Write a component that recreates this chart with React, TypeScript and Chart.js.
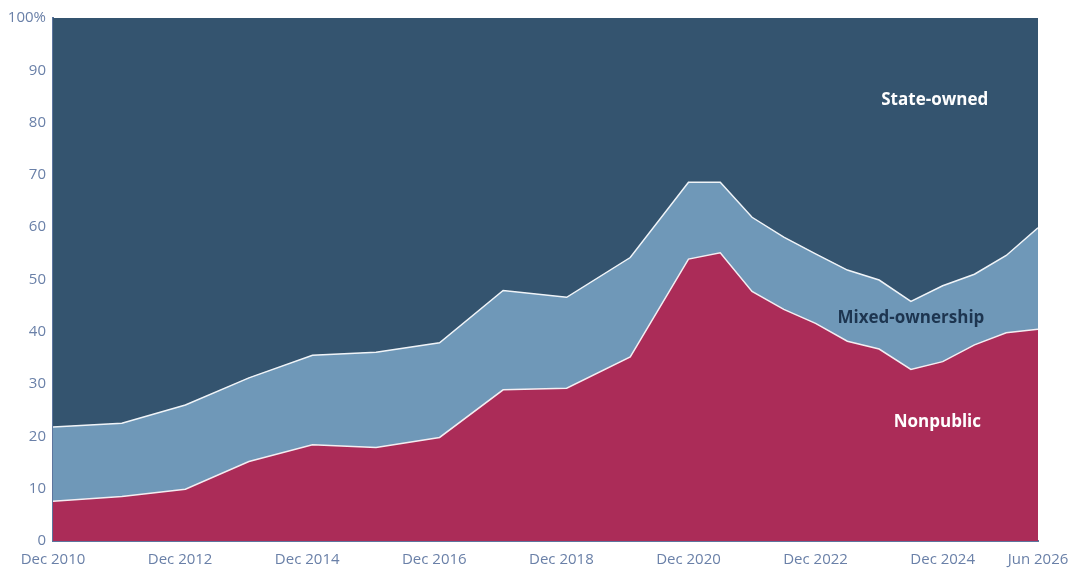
import { useEffect, useRef } from 'react';
import { Chart, registerables } from 'chart.js';

Chart.register(...registerables);

// months since Dec 2010 for each observation
const months = [0, 13, 25, 37, 49, 61, 73, 85, 97, 109, 120, 126, 132, 138, 144, 150, 156, 162, 168, 174, 180, 186];

const nonpublic = [7.6, 8.5, 9.9, 15.2, 18.4, 17.9, 19.8, 28.9, 29.2, 35.2, 53.9, 55.1, 47.7, 44.3, 41.6, 38.2, 36.7, 32.8, 34.3, 37.5, 39.8, 40.5];
const mixedOwnership = [14.2, 14.0, 16.1, 16.0, 17.1, 18.2, 18.1, 19.0, 17.4, 19.0, 14.7, 13.5, 14.2, 13.8, 13.3, 13.6, 13.2, 13.0, 14.5, 13.5, 14.8, 19.4];
const stateOwned = [78.2, 77.5, 74.0, 68.8, 64.5, 63.9, 62.1, 52.1, 53.4, 45.8, 31.4, 31.4, 38.1, 41.9, 45.1, 48.2, 50.1, 54.2, 51.2, 49.0, 45.4, 40.1];

const tickMonths = [0, 24, 48, 72, 96, 120, 144, 168, 186];
const tickLabels = ['Dec 2010', 'Dec 2012', 'Dec 2014', 'Dec 2016', 'Dec 2018', 'Dec 2020', 'Dec 2022', 'Dec 2024', 'Jun 2026'];

const seriesLabels = [
  { text: 'State-owned', x: 166.5, y: 84.3, color: '#ffffff' },
  { text: 'Mixed-ownership', x: 162, y: 42.6, color: '#1d3550' },
  { text: 'Nonpublic', x: 167, y: 22.8, color: '#ffffff' },
];

const FONT = '"Open Sans", sans-serif';
const TICK_COLOR = '#6a80a8';
const AXIS_COLOR = '#5c759e';

const labelPlugin = {
  id: 'seriesLabels',
  afterDatasetsDraw(chart: any) {
    const { ctx, scales } = chart;
    ctx.save();
    ctx.font = `700 17px ${FONT}`;
    ctx.textAlign = 'center';
    ctx.textBaseline = 'middle';
    seriesLabels.forEach((l) => {
      ctx.fillStyle = l.color;
      ctx.fillText(l.text, scales.x.getPixelForValue(l.x), scales.y.getPixelForValue(l.y));
    });
    ctx.restore();
  },
};

const toPoints = (vals: number[]) => vals.map((v, i) => ({ x: months[i], y: v }));

export default function App() {
  const canvasRef = useRef<HTMLCanvasElement | null>(null);

  useEffect(() => {
    document.body.style.margin = '0';
    if (!canvasRef.current) return;

    const chart = new Chart(canvasRef.current, {
      type: 'line',
      data: {
        datasets: [
          {
            label: 'Nonpublic',
            data: toPoints(nonpublic),
            backgroundColor: '#ab2c58',
            borderColor: '#f4eef2',
            borderWidth: 1.5,
            fill: 'origin',
            pointRadius: 0,
          },
          {
            label: 'Mixed-ownership',
            data: toPoints(mixedOwnership),
            backgroundColor: '#6f98b8',
            borderColor: '#f0f4f8',
            borderWidth: 1.5,
            fill: '-1',
            pointRadius: 0,
          },
          {
            label: 'State-owned',
            data: toPoints(stateOwned),
            backgroundColor: '#34546f',
            borderColor: '#34546f',
            borderWidth: 0,
            fill: '-1',
            pointRadius: 0,
          },
        ],
      },
      options: {
        animation: false,
        responsive: true,
        maintainAspectRatio: false,
        layout: { padding: { left: 0, right: 42, top: 18, bottom: 0 } },
        plugins: {
          legend: { display: false },
          tooltip: { enabled: false },
        },
        scales: {
          x: {
            type: 'linear',
            min: 0,
            max: 186,
            grid: { display: false, drawTicks: false },
            border: { display: true, color: AXIS_COLOR, width: 2 },
            afterBuildTicks: (scale: any) => {
              scale.ticks = tickMonths.map((v) => ({ value: v }));
            },
            afterFit: (scale: any) => {
              scale.height = 34;
            },
            ticks: {
              autoSkip: false,
              maxRotation: 0,
              padding: 10,
              color: TICK_COLOR,
              font: { family: FONT, size: 15 },
              callback: (v: any) => tickLabels[tickMonths.indexOf(Number(v))] ?? '',
            },
          },
          y: {
            stacked: true,
            min: 0,
            max: 100,
            grid: { display: false, drawTicks: false },
            border: { display: true, color: AXIS_COLOR, width: 2 },
            afterFit: (scale: any) => {
              scale.width = 53;
            },
            ticks: {
              stepSize: 10,
              padding: 7,
              color: TICK_COLOR,
              font: { family: FONT, size: 15 },
              callback: (v: any) => (Number(v) === 100 ? '100%' : String(v)),
            },
          },
        },
      },
      plugins: [labelPlugin],
    });

    return () => {
      chart.destroy();
    };
  }, []);

  return (
    <div style={{ position: 'relative', width: 1080, height: 575 }}>
      <canvas ref={canvasRef} />
    </div>
  );
}
